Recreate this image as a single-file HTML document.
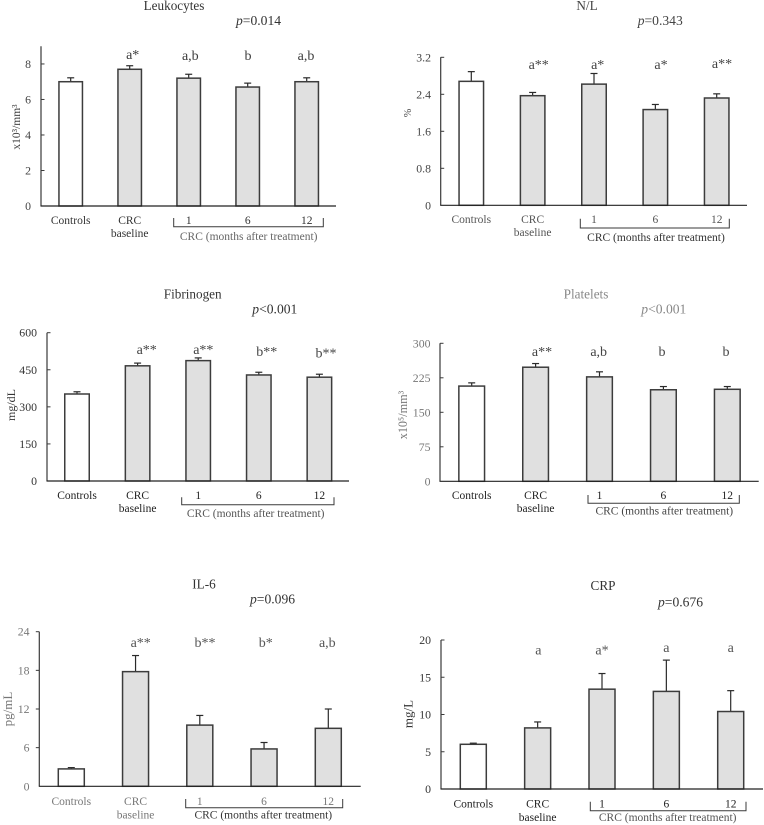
<!DOCTYPE html>
<html lang="en">
<head>
<meta charset="utf-8">
<title>Inflammatory markers in CRC patients</title>
<style>
html,body{margin:0;padding:0;background:#fff;width:764px;height:825px;overflow:hidden}
svg{display:block;font-family:"Liberation Serif",serif;filter:blur(0.35px)}
</style>
</head>
<body>
<svg id="chart" width="764" height="825" viewBox="0 0 764 825" xmlns="http://www.w3.org/2000/svg">
<g id="leukocytes"></g>
<g id="nl"></g>
<g id="fibrinogen"></g>
<g id="platelets"></g>
<g id="il6"></g>
<g id="crp"></g>
</svg>
<script>
const categoryLines = [["Controls"], ["CRC", "baseline"], ["1"], ["6"], ["12"]];
const bracketCaption = "CRC (months after treatment)";

const leukocyteMeans = [7.0, 7.7, 7.2, 6.7, 7.0];
const leukocyteErrors = [0.22, 0.2, 0.22, 0.22, 0.22];
const leukocyteTicks = [0, 2, 4, 6, 8];
const leukocyteSig = ["a*", "a,b", "b", "a,b"];

const nlMeans = [2.68, 2.37, 2.62, 2.07, 2.32];
const nlErrors = [0.21, 0.07, 0.23, 0.11, 0.09];
const nlTicks = [0, 0.8, 1.6, 2.4, 3.2];
const nlTickLabels = ["0", "0.8", "1.6", "2.4", "3.2"];
const nlSig = ["a**", "a*", "a*", "a**"];

const fibrinogenMeans = [352, 466, 487, 429, 420];
const fibrinogenErrors = [9, 11, 11, 11, 12];
const fibrinogenTicks = [0, 150, 300, 450, 600];
const fibrinogenSig = ["a**", "a**", "b**", "b**"];

const plateletMeans = [207, 248, 227, 199, 200];
const plateletErrors = [7, 8, 11, 7, 6];
const plateletTicks = [0, 75, 150, 225, 300];
const plateletSig = ["a**", "a,b", "b", "b"];

const il6Means = [2.7, 17.8, 9.5, 5.8, 9.0];
const il6Errors = [0.2, 2.5, 1.5, 1.0, 3.0];
const il6Ticks = [0, 6, 12, 18, 24];
const il6Sig = ["a**", "b**", "b*", "a,b"];

const crpMeans = [6.0, 8.2, 13.4, 13.1, 10.4];
const crpErrors = [0.15, 0.8, 2.1, 4.2, 2.8];
const crpTicks = [0, 5, 10, 15, 20];
const crpSig = ["a", "a*", "a", "a"];

const NS = "http://www.w3.org/2000/svg";

function make(tag, attrs, parent) {
  const node = document.createElementNS(NS, tag);
  for (const key in attrs) node.setAttribute(key, attrs[key]);
  parent.appendChild(node);
  return node;
}

function drawPanel(id, p) {
  const g = document.getElementById(id);
  const yScale = v => p.y0 - (v / p.domainMax) * (p.y0 - p.yTop);
  const xScale = i => p.x0 + i * p.step;
  let el;

  el = make("text", {x: p.titleX, y: p.titleY, "text-anchor": "middle", "font-size": 13.2, fill: p.titleColor}, g);
  el.textContent = p.title;
  
  

  el = make("text", {x: p.pX, y: p.pY, "font-size": 13.6, fill: p.titleColor}, g);
  
  
  const pItalic = make("tspan", {"font-style": "italic"}, el);
  pItalic.textContent = "p";
  const pRest = make("tspan", {}, el);
  pRest.textContent = p.pText;

  el = make("text", {
    x: p.unitX, y: p.unitY, "text-anchor": "middle", "font-size": p.unitSize || 11.5, fill: p.tickColor,
    transform: "rotate(-90 " + p.unitX + " " + p.unitY + ")"
  }, g);
  el.textContent = p.unit;
  
  

  p.means.forEach((mean, i) => {
    const top = yScale(mean);
    const cx = xScale(i);

    el = make("line", {x1: cx, x2: cx, y1: top, y2: yScale(mean + p.errors[i]), stroke: "#2a2a2a", "stroke-width": 1.2}, g);
    
    

    el = make("line", {x1: cx - 3.5, x2: cx + 3.5, y1: yScale(mean + p.errors[i]), y2: yScale(mean + p.errors[i]), stroke: "#2a2a2a", "stroke-width": 1.2}, g);
    
    

    el = make("rect", {
      x: cx - p.barW / 2, y: top, width: p.barW, height: p.y0 - top,
      fill: i === 0 ? "#ffffff" : "#e0e0e0", stroke: "#3c3c3c", "stroke-width": 1.5
    }, g);
    
    
  });

  el = make("line", {x1: p.x, x2: p.x, y1: p.yTop, y2: p.y0, stroke: "#3a3a3a", "stroke-width": 1.2}, g);
  
  

  el = make("line", {x1: p.x - 0.5, x2: p.xEnd, y1: p.y0, y2: p.y0, stroke: "#222", "stroke-width": 1.2}, g);
  
  

  p.ticks.forEach((tick, i) => {
    const ty = yScale(tick);
    if (i > 0) {
      el = make("line", {x1: p.x, x2: p.x + p.tickDir * 3.5, y1: ty, y2: ty, stroke: "#3a3a3a", "stroke-width": 1}, g);
      
      
    }
    el = make("text", {x: p.tickRight, y: ty + 4, "text-anchor": "end", "font-size": 11.8, fill: p.tickColor}, g);
    el.textContent = p.tickLabels ? p.tickLabels[i] : String(tick);
    
    
  });

  categoryLines.forEach((lines, i) => {
    lines.forEach((line, k) => {
      el = make("text", {
        x: xScale(i), y: k === 0 ? p.catY : p.cat2Y, "text-anchor": "middle",
        "font-size": 11.5, fill: p.catColor
      }, g);
      el.textContent = line;
      
      
    });
  });

  p.sig.forEach((label, i) => {
    el = make("text", {x: p.sigX[i], y: p.sigY[i], "text-anchor": "middle", "font-size": 14, fill: p.sigColor}, g);
    el.textContent = label;
    
    
  });

  el = make("path", {
    d: "M" + p.brL + " " + p.brTop + "V" + p.brBot + "H" + p.brR + "V" + p.brTop,
    fill: "none", stroke: "#3a3a3a", "stroke-width": 1
  }, g);
  
  

  el = make("text", {x: p.capX, y: p.capY, "text-anchor": "middle", "font-size": 11.5, fill: p.capColor}, g);
  el.textContent = bracketCaption;
  
  
}

drawPanel("leukocytes", {
  title: "Leukocytes", titleX: 174, titleY: 10, pX: 236, pY: 25, pText: "=0.014", titleColor: "#333",
  unit: "x10³/mm³", unitX: 20, unitY: 127, tickColor: "#444", catColor: "#333", sigColor: "#3c3c3c", capColor: "#666",
  means: leukocyteMeans, errors: leukocyteErrors, ticks: leukocyteTicks, sig: leukocyteSig,
  domainMax: 9, x: 41, xEnd: 336, y0: 206, yTop: 46.2, x0: 70.7, step: 59, barW: 23.5, tickDir: 1, tickRight: 31,
  sigX: [132.7, 190.3, 248, 306], sigY: [59, 60, 60, 60],
  catY: 224, cat2Y: 237, brL: 173.7, brR: 323.3, brTop: 218, brBot: 226.7, capX: 248.7, capY: 240
});

drawPanel("nl", {
  title: "N/L", titleX: 587, titleY: 10, pX: 637.7, pY: 25, pText: "=0.343", titleColor: "#444",
  unit: "%", unitX: 411, unitY: 113, unitSize: 10, tickColor: "#444", catColor: "#555", sigColor: "#444", capColor: "#333",
  means: nlMeans, errors: nlErrors, ticks: nlTicks, tickLabels: nlTickLabels, sig: nlSig,
  domainMax: 3.2, x: 440.7, xEnd: 747, y0: 205.3, yTop: 57.3, x0: 471.3, step: 61.35, barW: 24.5, tickDir: 1, tickRight: 431,
  sigX: [538.7, 597.7, 661, 722], sigY: [69, 69, 69, 68],
  catY: 223, cat2Y: 236, brL: 580.3, brR: 729.3, brTop: 218.7, brBot: 228, capX: 656, capY: 241
});

drawPanel("fibrinogen", {
  title: "Fibrinogen", titleX: 192.7, titleY: 298.5, pX: 252.3, pY: 313.5, pText: "<0.001", titleColor: "#333",
  unit: "mg/dL", unitX: 15, unitY: 405, unitSize: 12, tickColor: "#333", catColor: "#222", sigColor: "#444", capColor: "#555",
  means: fibrinogenMeans, errors: fibrinogenErrors, ticks: fibrinogenTicks, sig: fibrinogenSig,
  domainMax: 600, x: 47, xEnd: 349, y0: 481, yTop: 332.7, x0: 77, step: 60.6, barW: 24.5, tickDir: 1, tickRight: 37,
  sigX: [146.7, 203.3, 266.7, 326], sigY: [354, 354, 356, 357.3],
  catY: 499, cat2Y: 512, brL: 181.7, brR: 334, brTop: 497.3, brBot: 504.7, capX: 255.7, capY: 517
});

drawPanel("platelets", {
  title: "Platelets", titleX: 586, titleY: 298.5, pX: 641.3, pY: 313.5, pText: "<0.001", titleColor: "#888",
  unit: "x10⁵/mm³", unitX: 407, unitY: 415, unitSize: 12.2, tickColor: "#777", catColor: "#222", sigColor: "#444", capColor: "#444",
  means: plateletMeans, errors: plateletErrors, ticks: plateletTicks, sig: plateletSig,
  domainMax: 300, x: 440, xEnd: 758.7, y0: 481.3, yTop: 343.3, x0: 471.7, step: 63.9, barW: 25.7, tickDir: 1, tickRight: 430.5,
  sigX: [542, 598.7, 662, 726], sigY: [356, 356, 356, 356],
  catY: 499, cat2Y: 512, brL: 588, brR: 739.3, brTop: 495, brBot: 503.3, capX: 664.3, capY: 514.5
});

drawPanel("il6", {
  title: "IL-6", titleX: 204, titleY: 588.5, pX: 250, pY: 603.5, pText: "=0.096", titleColor: "#333",
  unit: "pg/mL", unitX: 12, unitY: 709, unitSize: 13, tickColor: "#777", catColor: "#777", sigColor: "#555", capColor: "#333",
  means: il6Means, errors: il6Errors, ticks: il6Ticks, sig: il6Sig,
  domainMax: 24, x: 39.3, xEnd: 360.7, y0: 786.3, yTop: 631.7, x0: 71.3, step: 64.25, barW: 26, tickDir: -1, tickRight: 29.5,
  sigX: [140.7, 205, 265.7, 327.3], sigY: [647, 647, 647, 647],
  catY: 805, cat2Y: 818.5, brL: 185.7, brR: 342.7, brTop: 799, brBot: 807.7, capX: 263.3, capY: 818.5
});

drawPanel("crp", {
  title: "CRP", titleX: 603, titleY: 590, pX: 658, pY: 606.7, pText: "=0.676", titleColor: "#333",
  unit: "mg/L", unitX: 412.5, unitY: 714, unitSize: 13, tickColor: "#333", catColor: "#222", sigColor: "#555", capColor: "#555",
  means: crpMeans, errors: crpErrors, ticks: crpTicks, sig: crpSig,
  domainMax: 20, x: 441, xEnd: 763, y0: 789, yTop: 640, x0: 473.3, step: 64.35, barW: 26, tickDir: 1, tickRight: 431,
  sigX: [538.3, 602, 666.3, 730.7], sigY: [654.5, 654.5, 652, 652],
  catY: 807.5, cat2Y: 821, brL: 590.3, brR: 746, brTop: 801.7, brBot: 810.7, capX: 667.7, capY: 821
});
</script>
</body>
</html>
